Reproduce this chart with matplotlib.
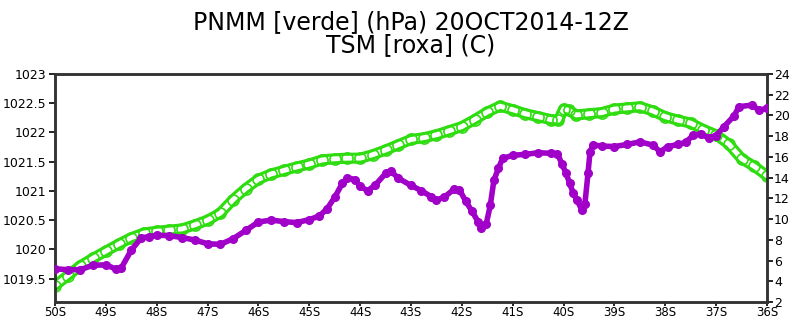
import numpy as np
import matplotlib.pyplot as plt
from matplotlib.ticker import FuncFormatter

# ---- PNMM (hPa), green, left axis ----
lat_p = [-50, -49.75, -49.5, -49.25, -49, -48.75, -48.5, -48.25, -48, -47.75,
         -47.5, -47.25, -47, -46.75, -46.5, -46.25, -46, -45.75, -45.5, -45.25,
         -45, -44.75, -44.5, -44.25, -44, -43.75, -43.5, -43.25, -43, -42.75,
         -42.5, -42.25, -42, -41.75, -41.5, -41.25, -41, -40.75, -40.5, -40.25,
         -40.1, -40, -39.9, -39.75, -39.5, -39.25, -39, -38.75, -38.5, -38.25,
         -38, -37.75, -37.5, -37.25, -37, -36.75, -36.5, -36.25, -36]
pnmm = [1019.38, 1019.55, 1019.72, 1019.85, 1019.97, 1020.09, 1020.20, 1020.28, 1020.31, 1020.33,
        1020.35, 1020.42, 1020.50, 1020.62, 1020.85, 1021.04, 1021.20, 1021.29, 1021.35, 1021.41,
        1021.46, 1021.53, 1021.55, 1021.56, 1021.56, 1021.62, 1021.70, 1021.79, 1021.88, 1021.91,
        1021.96, 1022.03, 1022.10, 1022.22, 1022.35, 1022.45, 1022.39, 1022.32, 1022.27, 1022.22,
        1022.21, 1022.40, 1022.38, 1022.30, 1022.32, 1022.34, 1022.40, 1022.42, 1022.44, 1022.37,
        1022.27, 1022.21, 1022.16, 1022.05, 1021.96, 1021.80, 1021.55, 1021.42, 1021.26]

# ---- TSM (C), purple, right axis ----
lat_t = [-50, -49.75, -49.5, -49.25, -49, -48.8, -48.7, -48.5, -48.3, -48.15,
         -48, -47.75, -47.5, -47.25, -47, -46.75, -46.5, -46.25, -46, -45.75,
         -45.5, -45.25, -45, -44.8, -44.65, -44.5, -44.35, -44.25, -44.1, -44,
         -43.85, -43.7, -43.5, -43.4, -43.25, -43, -42.8, -42.6, -42.5, -42.35,
         -42.15, -42.05, -41.92, -41.8, -41.68, -41.62, -41.52, -41.44, -41.37, -41.28,
         -41.2, -41, -40.75, -40.5, -40.25, -40.12, -40.03, -39.95, -39.88, -39.81,
         -39.73, -39.64, -39.58, -39.52, -39.48, -39.42, -39.25, -39, -38.75, -38.5,
         -38.25, -38.1, -37.95, -37.75, -37.6, -37.45, -37.3, -37.15, -37, -36.85,
         -36.65, -36.55, -36.3, -36.15, -36]
tsm = [5.20, 5.12, 5.12, 5.55, 5.58, 5.18, 5.25, 7.00, 8.20, 8.30,
       8.45, 8.40, 8.22, 7.98, 7.62, 7.56, 8.10, 8.90, 9.72, 9.90,
       9.76, 9.66, 9.95, 10.30, 11.00, 12.10, 13.45, 14.00, 13.80, 13.15,
       12.74, 13.30, 14.40, 14.65, 13.95, 13.25, 12.75, 12.16, 11.85, 12.10,
       12.90, 12.85, 11.70, 10.75, 9.75, 9.10, 9.55, 11.35, 13.75, 14.90,
       15.85, 16.15, 16.25, 16.40, 16.35, 16.30, 15.30, 14.40, 13.45, 12.50,
       11.80, 10.85, 11.50, 14.40, 16.50, 17.15, 17.05, 17.00, 17.20, 17.45,
       17.15, 16.50, 17.00, 17.20, 17.40, 18.10, 18.20, 17.85, 18.05, 18.90,
       19.95, 20.85, 21.00, 20.50, 20.70]

green = '#2EDC10'
purple = '#A000C8'

fig = plt.figure(figsize=(7.9, 3.2), dpi=100)
ax = fig.add_axes([0.0696, 0.05625, 0.9013, 0.7125])
ax2 = ax.twinx()

# green: band of overlapping rings
ax.plot(lat_p, pnmm, color=green, linewidth=8, solid_capstyle='round', zorder=2)
ax.plot(lat_p, pnmm, color='white', linewidth=3.5, solid_capstyle='round', zorder=3)
ax.plot(lat_p, pnmm, linestyle='none', marker='o', markersize=8,
        markerfacecolor='none', markeredgecolor=green, markeredgewidth=1.2, zorder=4)

# purple: filled dots joined by a line
ax2.plot(lat_t, tsm, color=purple, linewidth=4, marker='o', markersize=5.5,
         markerfacecolor=purple, markeredgecolor=purple, zorder=5)

ax.set_xlim(-50, -36)
ax.set_ylim(1019.1, 1023)
ax2.set_ylim(2, 24)

ax.set_xticks(np.arange(-50, -35, 1))
ax.xaxis.set_major_formatter(FuncFormatter(lambda v, p: f"{abs(int(round(v)))}S"))
ax.set_yticks(np.arange(1019.5, 1023.01, 0.5))
ax.yaxis.set_major_formatter(FuncFormatter(lambda v, p: f"{v:g}"))
ax2.set_yticks(np.arange(2, 25, 2))

for a in (ax, ax2):
    for s in a.spines.values():
        s.set_linewidth(1.8)
        s.set_color('#333333')
    a.tick_params(direction='out', length=4, width=1.2, labelsize=9, pad=2)
ax.tick_params(axis='x', length=3, pad=0, labelsize=8.5)
ax2.tick_params(axis='y', pad=1)

fig.text(0.52, 0.931, "PNMM [verde] (hPa) 20OCT2014-12Z", ha='center', va='center',
         fontsize=17, family='DejaVu Sans', color='black')
fig.text(0.52, 0.859, "TSM [roxa] (C)", ha='center', va='center',
         fontsize=17, family='DejaVu Sans', color='black')

fig.savefig('out.png', dpi=100)
